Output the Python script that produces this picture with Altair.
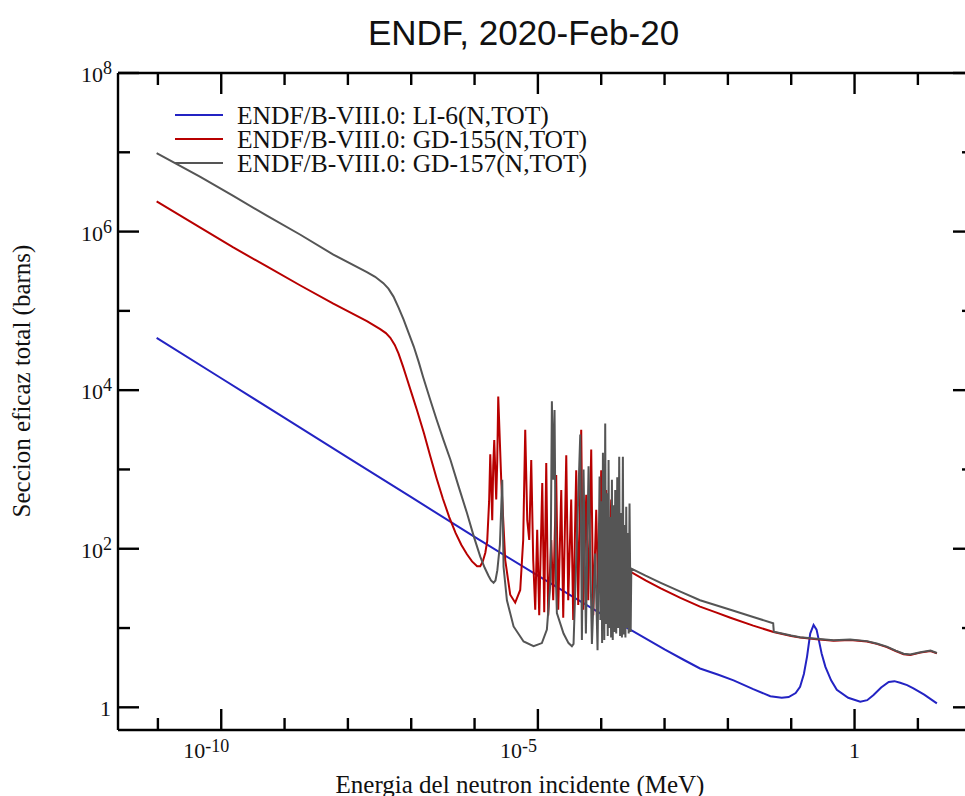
import altair as alt
import pandas as pd

# ---------------------------------------------------------------------------
# Total cross sections (ENDF/B-VIII.0), stored as log10(E / MeV), log10(sigma / b)
# ---------------------------------------------------------------------------
li6_log_e = [-11.02, -10.0, -9.0, -8.0, -7.0, -6.0, -5.0, -4.0, -3.5, -3.0,
             -2.70, -2.44, -2.15, -1.91, -1.60, -1.33, -1.15, -1.04, -0.93, -0.86,
             -0.80, -0.75, -0.70, -0.647, -0.60, -0.567, -0.52, -0.46, -0.37, -0.28,
             -0.10, 0.09, 0.20, 0.30, 0.42, 0.54, 0.63, 0.72, 0.83, 0.93,
             1.10, 1.30]
li6_log_s = [4.66, 4.15, 3.65, 3.15, 2.65, 2.15, 1.66, 1.18, 0.96, 0.73,
             0.60, 0.49, 0.41, 0.34, 0.23, 0.14, 0.12, 0.13, 0.18, 0.26,
             0.42, 0.64, 0.93, 1.04, 0.98, 0.86, 0.68, 0.51, 0.34, 0.22,
             0.12, 0.07, 0.09, 0.155, 0.25, 0.32, 0.33, 0.31, 0.28, 0.24,
             0.16, 0.05]

gd155_log_e = [-11.02, -10.33, -9.81, -9.28, -8.75, -8.23, -7.70, -7.49, -7.40, -7.33,
               -7.26, -7.20, -7.13, -7.07, -6.99, -6.91, -6.80, -6.70, -6.60, -6.50,
               -6.40, -6.30, -6.21, -6.12, -6.04, -5.96, -5.91, -5.87, -5.83, -5.80,
               -5.77,
               -5.752, -5.737, -5.721, -5.705, -5.689, -5.658, -5.642, -5.626, -5.579, -5.516,
               -5.437, -5.358, -5.279, -5.232, -5.200, -5.168, -5.137, -5.105, -5.074, -5.042,
               -5.011, -4.979, -4.931, -4.900, -4.868, -4.837, -4.789, -4.758, -4.711, -4.679,
               -4.631, -4.600, -4.552, -4.521, -4.474, -4.442, -4.395, -4.363, -4.316, -4.284,
               -4.237, -4.205, -4.158, -4.126, -4.079, -4.047, -4.000, -3.968, -3.921, -3.889,
               -3.842, -3.810, -3.763, -3.731, -3.684, -3.652,
               -3.54, -3.30, -3.06, -2.75, -2.44, -2.20, -1.96, -1.60, -1.28, -1.00,
               -0.86, -0.60, -0.33, -0.07, 0.195, 0.35, 0.51, 0.65, 0.775, 0.88,
               1.04, 1.20, 1.30]
gd155_log_s = [6.38, 6.05, 5.80, 5.56, 5.32, 5.09, 4.87, 4.77, 4.72, 4.66,
               4.57, 4.46, 4.30, 4.15, 3.95, 3.75, 3.46, 3.17, 2.89, 2.63,
               2.40, 2.20, 2.05, 1.93, 1.84, 1.78, 1.78, 1.84, 1.95, 2.10,
               2.60,
               3.19, 2.80, 2.36, 3.05, 3.37, 2.62, 3.10, 3.92, 2.87, 1.86,
               1.42, 1.32, 1.48, 2.11, 3.50, 2.36, 2.11, 3.12, 1.86, 1.23,
               2.24, 1.16, 2.83, 1.20, 3.08, 1.16, 2.11, 1.35, 2.93, 1.23,
               2.74, 1.13, 3.18, 1.35, 2.62, 1.10, 2.99, 1.29, 3.50, 1.23,
               2.68, 1.35, 3.25, 1.16, 2.49, 1.42, 2.99, 1.35, 2.74, 1.48,
               2.62, 1.54, 2.36, 1.67, 2.11, 1.74,
               1.71, 1.60, 1.50, 1.38, 1.27, 1.20, 1.13, 1.03, 0.95, 0.90,
               0.88, 0.86, 0.84, 0.85, 0.83, 0.80, 0.76, 0.71, 0.67, 0.66,
               0.69, 0.71, 0.68]

gd157_log_e = [-11.02, -10.33, -9.81, -9.28, -8.75, -8.23, -7.70, -7.57, -7.44, -7.36,
               -7.28, -7.20, -7.12, -7.04, -6.96, -6.88, -6.81, -6.70, -6.60, -6.49,
               -6.38, -6.25, -6.12, -6.01, -5.91, -5.84, -5.78, -5.74, -5.70, -5.67,
               -5.64, -5.60,
               -5.563, -5.542, -5.489, -5.384, -5.226, -5.068, -4.937, -4.858, -4.800, -4.779,
               -4.758, -4.737, -4.715, -4.700, -4.595, -4.516, -4.463, -4.437, -4.331, -4.305,
               -4.279, -4.242, -4.200, -4.147, -4.095, -4.058, -4.026, -4.013, -4.000, -3.986,
               -3.973, -3.952, -3.937, -3.924, -3.910, -3.897, -3.884, -3.871, -3.858, -3.844,
               -3.831, -3.818, -3.805, -3.792, -3.779, -3.763, -3.747, -3.731, -3.716, -3.702,
               -3.689, -3.673, -3.658, -3.645, -3.632, -3.618, -3.605, -3.592, -3.579, -3.566,
               -3.553, -3.535,
               -3.525, -3.30, -3.06, -2.75, -2.44, -2.20, -1.96, -1.60, -1.285, -1.275,
               -1.00, -0.86, -0.60, -0.33, -0.07, 0.195, 0.35, 0.51, 0.65, 0.775,
               0.88, 1.04, 1.20, 1.30]
gd157_log_s = [6.99, 6.69, 6.45, 6.20, 5.96, 5.71, 5.49, 5.43, 5.35, 5.28,
               5.18, 5.04, 4.89, 4.72, 4.55, 4.35, 4.16, 3.88, 3.63, 3.37,
               3.12, 2.78, 2.45, 2.15, 1.90, 1.76, 1.66, 1.60, 1.57, 1.60,
               1.73, 2.05,
               2.87, 1.77, 1.35, 1.02, 0.83, 0.77, 0.81, 0.98, 1.60, 3.86,
               2.87, 3.75, 1.60, 1.19, 0.93, 0.81, 0.77, 0.80, 3.44, 0.85,
               3.00, 0.93, 3.04, 0.80, 1.94, 0.72, 2.91, 1.10, 2.60, 0.81,
               3.21, 0.85, 3.58, 1.05, 2.70, 0.90, 3.12, 1.00, 2.40, 0.88,
               2.87, 0.85, 2.55, 0.95, 2.74, 0.93, 2.90, 1.00, 3.16, 0.90,
               2.45, 0.88, 3.16, 0.92, 2.30, 0.88, 2.53, 1.00, 2.20, 0.93,
               2.57, 0.95,
               1.75, 1.66, 1.57, 1.46, 1.35, 1.29, 1.23, 1.14, 1.06, 0.955,
               0.905, 0.885, 0.865, 0.845, 0.855, 0.835, 0.805, 0.765, 0.715, 0.675,
               0.665, 0.695, 0.715, 0.685]

series_names = ["ENDF/B-VIII.0: LI-6(N,TOT)",
                "ENDF/B-VIII.0: GD-155(N,TOT)",
                "ENDF/B-VIII.0: GD-157(N,TOT)"]
series_colors = ["#2323c3", "#b80000", "#555555"]

# Axis decorations (decade exponents and the labelled ones)
x_decades = list(range(-11, 2))
x_major = [-10, -5, 0]
y_decades = list(range(0, 9))
y_major = [0, 2, 4, 6, 8]

x_label_values = [1e-10, 1e-5]
x_label_base = ["10", "10"]
x_label_exp = ["-10", "-5"]
x_plain_values = [1.0]
x_plain_text = ["1"]
y_label_values = [1e2, 1e4, 1e6, 1e8]
y_label_base = ["10", "10", "10", "10"]
y_label_exp = ["2", "4", "6", "8"]
y_plain_values = [1.0]
y_plain_text = ["1"]

chart_title = "ENDF, 2020-Feb-20"
x_title = "Energia del neutron incidente (MeV)"
y_title = "Seccion eficaz total (barns)"

# ---------------------------------------------------------------------------
W, H = 847, 657
SERIF = "Liberation Serif"
INK = "#111111"

x_scale = alt.Scale(type="log", domain=[10 ** -11.63, 10 ** 1.744], nice=False)
y_scale = alt.Scale(type="log", domain=[10 ** -0.286, 1e8], nice=False)
color_scale = alt.Scale(domain=series_names, range=series_colors)

frames = []
for name, le, ls in zip(series_names,
                        [li6_log_e, gd155_log_e, gd157_log_e],
                        [li6_log_s, gd155_log_s, gd157_log_s]):
    frames.append(pd.DataFrame({
        "energy": [10.0 ** v for v in le],
        "sigma": [10.0 ** v for v in ls],
        "series": name,
        "idx": range(len(le)),
    }))
curves = pd.concat(frames, ignore_index=True)


def curve_layer(name):
    return alt.Chart(curves[curves.series == name]).mark_line(
        strokeWidth=2, clip=True
    ).encode(
        x=alt.X("energy:Q", scale=x_scale, axis=None),
        y=alt.Y("sigma:Q", scale=y_scale, axis=None),
        color=alt.Color("series:N", scale=color_scale, legend=None),
        order="idx:Q",
    )


# Legend block in the upper-left corner: one row per series
legend_rows = pd.DataFrame({"series": series_names})
legend_y = alt.Y("series:N", axis=None,
                 scale=alt.Scale(type="point", domain=series_names, range=[42, 90], padding=0))
legend = [
    alt.Chart(legend_rows).mark_rule(strokeWidth=2).encode(
        y=legend_y, x=alt.value(57), x2=alt.value(105),
        color=alt.Color("series:N", scale=color_scale, legend=None)),
    alt.Chart(legend_rows).mark_text(
        font=SERIF, fontSize=25.5, color=INK, align="left", baseline="middle", dy=1
    ).encode(y=legend_y, x=alt.value(119), text="series:N"),
]

one = pd.DataFrame({"k": [0]})
frame_style = dict(color="black", strokeWidth=2.4)
frame = [
    alt.Chart(one).mark_rule(**frame_style).encode(
        x=alt.value(0), y=alt.value(0), y2=alt.value(H)),
    alt.Chart(one).mark_rule(**frame_style).encode(
        x=alt.value(0), x2=alt.value(W), y=alt.value(0)),
    alt.Chart(one).mark_rule(**frame_style).encode(
        x=alt.value(0), x2=alt.value(W), y=alt.value(H)),
]

xt = pd.DataFrame({"value": [10.0 ** k for k in x_decades],
                   "major": [k in x_major for k in x_decades]})
yt = pd.DataFrame({"value": [10.0 ** k for k in y_decades],
                   "major": [k in y_major for k in y_decades]})
tick_style = dict(color="black", strokeWidth=2.4)


def x_ticks(major, y0, y1):
    test = "datum.major" if major else "!datum.major"
    return alt.Chart(xt).transform_filter(test).mark_rule(**tick_style).encode(
        x=alt.X("value:Q", scale=x_scale, axis=None),
        y=alt.value(y0), y2=alt.value(y1))


def y_ticks(major, x0, x1):
    test = "datum.major" if major else "!datum.major"
    return alt.Chart(yt).transform_filter(test).mark_rule(**tick_style).encode(
        y=alt.Y("value:Q", scale=y_scale, axis=None),
        x=alt.value(x0), x2=alt.value(x1))


ticks = [
    x_ticks(True, H, H - 21), x_ticks(False, H, H - 12),
    x_ticks(True, 0, 21), x_ticks(False, 0, 12),
    y_ticks(True, 0, 21), y_ticks(False, 0, 12),
    y_ticks(True, W - 12, W), y_ticks(False, W - 3, W),
]

# Tick labels: "10" with a raised exponent
xl = pd.DataFrame({"value": x_label_values, "base": x_label_base, "exp": x_label_exp})
xp = pd.DataFrame({"value": x_plain_values, "text": x_plain_text})
yl = pd.DataFrame({"value": y_label_values, "base": y_label_base, "exp": y_label_exp})
yp = pd.DataFrame({"value": y_plain_values, "text": y_plain_text})

labels = [
    alt.Chart(xl).mark_text(font=SERIF, fontSize=22, color=INK, align="right",
                            baseline="alphabetic", dx=-16).encode(
        x=alt.X("value:Q", scale=x_scale, axis=None), y=alt.value(H + 28), text="base:N"),
    alt.Chart(xl).mark_text(font=SERIF, fontSize=18, color=INK, align="left",
                            baseline="alphabetic", dx=-16).encode(
        x=alt.X("value:Q", scale=x_scale, axis=None), y=alt.value(H + 22), text="exp:N"),
    alt.Chart(xp).mark_text(font=SERIF, fontSize=22, color=INK, align="center",
                            baseline="alphabetic").encode(
        x=alt.X("value:Q", scale=x_scale, axis=None), y=alt.value(H + 28), text="text:N"),
    alt.Chart(yl).mark_text(font=SERIF, fontSize=22, color=INK, align="right",
                            baseline="alphabetic", dy=9).encode(
        y=alt.Y("value:Q", scale=y_scale, axis=None), x=alt.value(-15), text="base:N"),
    alt.Chart(yl).mark_text(font=SERIF, fontSize=18, color=INK, align="left",
                            baseline="alphabetic", dy=1).encode(
        y=alt.Y("value:Q", scale=y_scale, axis=None), x=alt.value(-15), text="exp:N"),
    alt.Chart(yp).mark_text(font=SERIF, fontSize=22, color=INK, align="right",
                            baseline="alphabetic", dy=9).encode(
        y=alt.Y("value:Q", scale=y_scale, axis=None), x=alt.value(-7), text="text:N"),
]

titles = [
    alt.Chart(pd.DataFrame({"t": [x_title]})).mark_text(
        font=SERIF, fontSize=25, color=INK, align="center", baseline="alphabetic"
    ).encode(x=alt.value(402), y=alt.value(H + 63), text="t:N"),
    alt.Chart(pd.DataFrame({"t": [y_title]})).mark_text(
        font=SERIF, fontSize=25, color=INK, align="center", baseline="middle", angle=270
    ).encode(x=alt.value(-96), y=alt.value(308), text="t:N"),
]

chart = alt.layer(
    *frame, *ticks,
    curve_layer(series_names[0]), curve_layer(series_names[1]), curve_layer(series_names[2]),
    *legend, *labels, *titles,
).resolve_scale(
    y="independent"
).properties(
    width=W, height=H,
    autosize=alt.AutoSizeParams(type="none"),
    padding={"left": 118, "top": 73, "right": 0, "bottom": 66},
    title=alt.TitleParams(chart_title, font="Liberation Sans", fontSize=35,
                          fontWeight="normal", color=INK, anchor="middle",
                          frame="group", dx=-18, offset=8),
    background="white",
).configure_view(strokeWidth=0)

chart.save("out.html", embed_options={"renderer": "svg", "actions": False})
